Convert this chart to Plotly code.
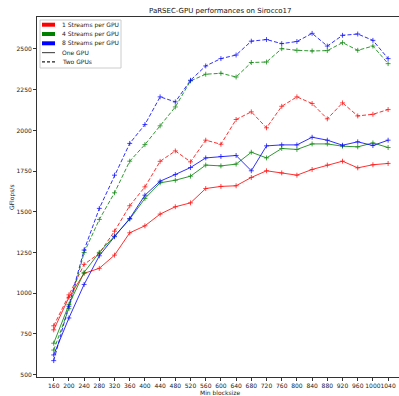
import plotly.graph_objects as go

# Minimum block size (x axis categories)
block_sizes = list(range(160, 1041, 40))

# GFlops/s for each stream count, one GPU (solid) and two GPUs (dashed)
red_one = [775, 975, 1122, 1153, 1234, 1371, 1414, 1486, 1531, 1555, 1643, 1656,
           1660, 1711, 1752, 1739, 1725, 1760, 1787, 1811, 1770, 1789, 1797]
red_two = [800, 990, 1177, 1245, 1381, 1537, 1653, 1810, 1874, 1807, 1940, 1915,
           2067, 2114, 2016, 2148, 2206, 2165, 2071, 2169, 2089, 2099, 2128]
green_one = [693, 930, 1128, 1251, 1351, 1455, 1582, 1678, 1694, 1719, 1787, 1782,
             1793, 1866, 1831, 1889, 1883, 1917, 1917, 1903, 1899, 1923, 1895]
green_two = [651, 905, 1250, 1453, 1617, 1811, 1913, 2028, 2144, 2304, 2345, 2351,
             2328, 2417, 2420, 2502, 2492, 2488, 2490, 2539, 2492, 2518, 2410]
blue_one = [621, 848, 1054, 1230, 1347, 1459, 1602, 1688, 1729, 1772, 1831, 1840,
            1846, 1752, 1905, 1911, 1911, 1958, 1940, 1909, 1930, 1907, 1940]
blue_two = [586, 920, 1265, 1521, 1725, 1920, 2036, 2206, 2175, 2308, 2396, 2441,
            2463, 2548, 2558, 2533, 2546, 2596, 2518, 2584, 2592, 2553, 2441]

stream_labels = ["1 Streams per GPU", "4 Streams per GPU", "8 Streams per GPU"]
stream_colors = ["#ff0000", "#008000", "#0000ff"]
gpu_labels = ["One GPU", "Two GPUs"]
y_ticks = [500, 750, 1000, 1250, 1500, 1750, 2000, 2250, 2500]

series = [
    (stream_colors[0], red_one, red_two),
    (stream_colors[1], green_one, green_two),
    (stream_colors[2], blue_one, blue_two),
]

FONT = "DejaVu Sans"
W, H = 399, 396
PL, PR, PT, PB = 37, 399, 17, 377  # plot area in pixels


def px_x(p):
    return (p - PL) / (PR - PL)


def px_y(p):
    return (PB - p) / (PB - PT)


fig = go.Figure()
for color, one, two in series:
    for vals, dash in ((one, "solid"), (two, "4px,2px")):
        fig.add_trace(go.Scatter(
            x=block_sizes, y=vals, mode="lines+markers",
            line=dict(color=color, width=0.9, dash=dash),
            marker=dict(symbol="cross-thin", size=3.5,
                        line=dict(color=color, width=0.8)),
            opacity=0.9,
            showlegend=False, hoverinfo="skip",
        ))

all_vals = red_one + red_two + green_one + green_two + blue_one + blue_two
y_pad = 0.05 * (max(all_vals) - min(all_vals))
x_pad = 0.05 * (block_sizes[-1] - block_sizes[0])
x_units_per_px = 40 / 15.2

fig.update_layout(
    width=W, height=H,
    margin=dict(l=PL, r=W - PR, t=PT, b=H - PB, pad=0),
    paper_bgcolor="white", plot_bgcolor="white",
    font=dict(family=FONT, size=6, color="#222"),
    showlegend=False,
    xaxis=dict(
        range=[block_sizes[0] - x_pad,
               block_sizes[0] - x_pad + (PR - PL) * x_units_per_px],
        tickmode="array", tickvals=block_sizes,
        ticktext=[str(b) for b in block_sizes], tickangle=0,
        ticks="outside", ticklen=3, tickwidth=1, tickcolor="#333",
        showline=True, linecolor="#333", linewidth=1, mirror=True,
        showgrid=False, zeroline=False,
        tickfont=dict(family=FONT, size=6, color="#222"),
    ),
    yaxis=dict(
        range=[min(all_vals) - y_pad, max(all_vals) + y_pad],
        tickmode="array", tickvals=y_ticks,
        ticks="outside", ticklen=3, tickwidth=1, tickcolor="#333",
        showline=True, linecolor="#333", linewidth=1, mirror=False,
        showgrid=False, zeroline=False,
        tickfont=dict(family=FONT, size=6, color="#222"),
    ),
)

annotations = [
    dict(text="PaRSEC-GPU performances on Sirocco17", x=px_x(220), y=px_y(11),
         xref="paper", yref="paper", xanchor="center", yanchor="middle",
         showarrow=False, font=dict(family=FONT, size=7, color="#111")),
    dict(text="Min blocksize", x=px_x(220), y=px_y(392), xref="paper", yref="paper",
         xanchor="center", yanchor="middle", showarrow=False,
         font=dict(family=FONT, size=6, color="#222")),
    dict(text="GFlops/s", x=px_x(12), y=px_y(197), xref="paper", yref="paper",
         xanchor="center", yanchor="middle", textangle=-90, showarrow=False,
         font=dict(family=FONT, size=6, color="#222")),
]

shapes = [
    dict(type="rect", xref="paper", yref="paper", x0=px_x(40), x1=px_x(121),
         y0=px_y(68), y1=px_y(20), line=dict(color="#cccccc", width=1),
         fillcolor="rgba(255,255,255,0.85)", layer="above"),
]

row_y = [24.7, 34.0, 43.3, 52.6, 61.9]
for i, (label, color) in enumerate(zip(stream_labels, stream_colors)):
    y = row_y[i]
    shapes.append(dict(type="rect", xref="paper", yref="paper",
                       x0=px_x(42), x1=px_x(55), y0=px_y(y + 2), y1=px_y(y - 2),
                       line=dict(width=0), fillcolor=color, layer="above"))
    annotations.append(dict(text=label, x=px_x(60), y=px_y(y), xref="paper",
                            yref="paper", xanchor="left", yanchor="middle",
                            showarrow=False,
                            font=dict(family=FONT, size=6, color="#222")))

for j, (label, dash, color) in enumerate(zip(gpu_labels, ["solid", "3px,2px"],
                                             ["#555555", "#222222"])):
    y = row_y[3 + j]
    shapes.append(dict(type="line", xref="paper", yref="paper",
                       x0=px_x(42), x1=px_x(55), y0=px_y(y), y1=px_y(y),
                       line=dict(color=color, width=1.2, dash=dash), layer="above"))
    annotations.append(dict(text=label, x=px_x(60), y=px_y(y), xref="paper",
                            yref="paper", xanchor="left", yanchor="middle",
                            showarrow=False,
                            font=dict(family=FONT, size=6, color="#222")))

fig.update_layout(annotations=annotations, shapes=shapes)
fig.write_html("out.html")
